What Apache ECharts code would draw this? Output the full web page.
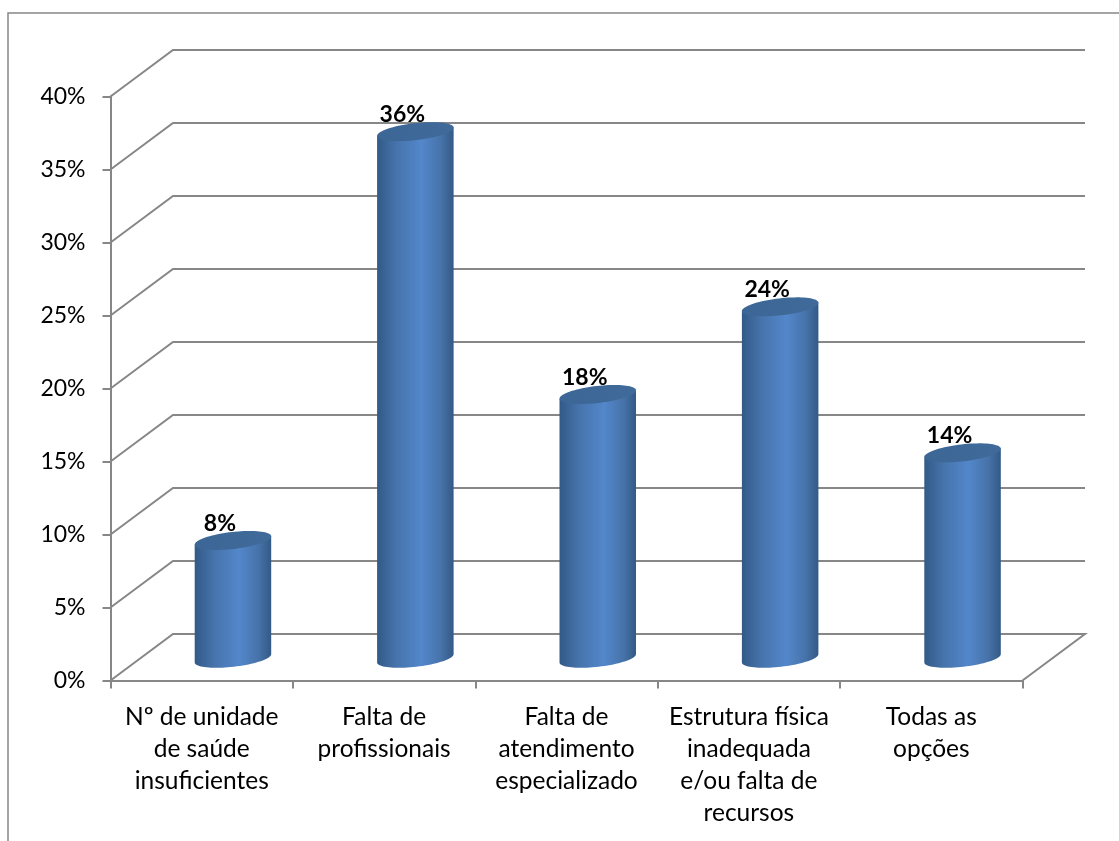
<!DOCTYPE html>
<html>
<head>
<meta charset="utf-8">
<style>
  html, body { margin: 0; padding: 0; background: #fff; }
  #chart { width: 1119px; height: 841px; }
</style>
<script src="https://cdn.jsdelivr.net/npm/echarts@6/dist/echarts.min.js"></script>
</head>
<body>
<div id="chart"></div>
<script>
const categories = [
  'Nº de unidade\nde saúde\ninsuficientes',
  'Falta de\nprofissionais',
  'Falta de\natendimento\nespecializado',
  'Estrutura física\ninadequada\ne/ou falta de\nrecursos',
  'Todas as\nopções'
];
const values = [8, 36, 18, 24, 14];
const wallTicks = [0, 5, 10, 15, 20, 25, 30, 35, 40];

const FONT = 'Lato, "Open Sans", sans-serif';
const LINE = '#878787';
const DEPTH_X = 62.5;
const DEPTH_Y = 46.5;
const RX = 38.5;
const RY = 8.5;
const TILT = -6.5 * Math.PI / 180;

// point on the tilted ellipse that closes the cylinder
function ellipsePoint(cx, cy, t) {
  return [
    cx + RX * Math.cos(t) * Math.cos(TILT) - RY * Math.sin(t) * Math.sin(TILT),
    cy + RX * Math.cos(t) * Math.sin(TILT) + RY * Math.sin(t) * Math.cos(TILT)
  ];
}

function renderWall(params, api) {
  const sys = params.coordSys;
  const value = api.value(0);
  const y = api.coord([0, value])[1];
  const left = sys.x;
  const right = sys.x + sys.width;
  const points = [[left, y], [left + DEPTH_X, y - DEPTH_Y], [right + DEPTH_X, y - DEPTH_Y]];
  // the floor also closes on the right
  if (value === 0) {
    points.push([right, y]);
  }
  return {
    type: 'polyline',
    shape: { points },
    style: { fill: null, stroke: LINE, lineWidth: 2 }
  };
}

function renderCylinder(params, api) {
  const top = api.coord([api.value(0), api.value(1)]);
  const base = api.coord([api.value(0), 0]);
  const cx = top[0] + DEPTH_X / 2;
  const topY = top[1] - DEPTH_Y / 2;
  const baseY = base[1] - DEPTH_Y / 2 + 1;

  const body = [ellipsePoint(cx, topY, Math.PI)];
  for (let i = 0; i <= 40; i += 1) {
    body.push(ellipsePoint(cx, baseY, Math.PI - (Math.PI * i) / 40));
  }
  body.push(ellipsePoint(cx, topY, 0));

  const cap = [];
  for (let i = 0; i < 80; i += 1) {
    cap.push(ellipsePoint(cx, topY, (2 * Math.PI * i) / 80));
  }

  return {
    type: 'group',
    children: [
      {
        type: 'polygon',
        shape: { points: body },
        style: {
          fill: new echarts.graphic.LinearGradient(0, 0, 1, 0, [
            { offset: 0, color: '#325a88' },
            { offset: 0.25, color: '#4673ab' },
            { offset: 0.58, color: '#5387cb' },
            { offset: 0.84, color: '#4672a8' },
            { offset: 1, color: '#335a86' }
          ])
        }
      },
      {
        type: 'polygon',
        shape: { points: cap },
        style: {
          fill: new echarts.graphic.LinearGradient(0, 0, 1, 0, [
            { offset: 0, color: '#3b6695' },
            { offset: 1, color: '#3f6a99' }
          ])
        }
      },
      {
        type: 'text',
        style: {
          text: api.value(1) + '%',
          x: cx - 13,
          y: topY - 17,
          align: 'center',
          verticalAlign: 'middle',
          fill: '#000',
          font: 'bold 23px ' + FONT
        }
      }
    ]
  };
}

const chart = echarts.init(document.getElementById('chart'));
chart.setOption({
  animation: false,
  backgroundColor: '#fff',
  graphic: [
    {
      type: 'polyline',
      silent: true,
      shape: { points: [[8, 841], [8, 13], [1119, 13]] },
      style: { fill: null, stroke: LINE, lineWidth: 1.5 }
    }
  ],
  grid: { left: 110.5, top: 96.5, width: 912, height: 584, containLabel: false },
  xAxis: {
    type: 'category',
    data: categories,
    axisLine: { lineStyle: { color: LINE, width: 2 } },
    axisTick: { show: true, length: 8, lineStyle: { color: LINE, width: 2 } },
    axisLabel: {
      color: '#000',
      fontFamily: FONT,
      fontSize: 24.5,
      lineHeight: 32,
      margin: 21,
      interval: 0,
      align: 'center'
    }
  },
  yAxis: {
    type: 'value',
    min: 0,
    max: 40,
    interval: 5,
    axisLine: { show: true, lineStyle: { color: LINE, width: 2 } },
    axisTick: { show: true, length: 8, lineStyle: { color: LINE, width: 2 } },
    splitLine: { show: false },
    axisLabel: {
      color: '#000',
      fontFamily: FONT,
      fontSize: 23,
      margin: 25,
      padding: [2, 0, 0, 0],
      formatter: '{value}%'
    }
  },
  series: [
    {
      type: 'custom',
      silent: true,
      z: 1,
      renderItem: renderWall,
      encode: { y: 0 },
      data: wallTicks.map((v) => [v])
    },
    {
      type: 'custom',
      silent: true,
      z: 3,
      renderItem: renderCylinder,
      encode: { x: 0, y: 1 },
      data: values.map((v, i) => [i, v])
    }
  ]
});
</script>
</body>
</html>
